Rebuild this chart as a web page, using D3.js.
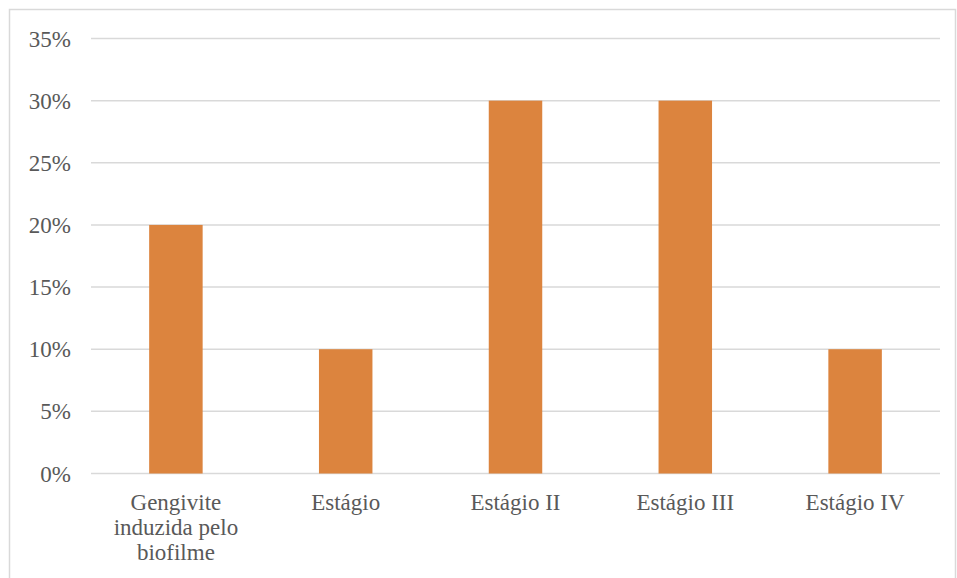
<!DOCTYPE html>
<html>
<head>
<meta charset="utf-8">
<script src="https://cdn.jsdelivr.net/npm/d3@7"></script>
<style>
  html, body { margin: 0; padding: 0; background: #fff; }
  svg { display: block; }
  text { font-family: "Liberation Serif", "Times New Roman", serif; fill: #595959; }
</style>
</head>
<body>
<svg id="chart" width="957" height="578"></svg>
<script>
// Share of cases per diagnosis category
const categories = [
  ["Gengivite", "induzida pelo", "biofilme"],
  ["Estágio"],
  ["Estágio II"],
  ["Estágio III"],
  ["Estágio IV"]
];
const values = [0.20, 0.10, 0.30, 0.30, 0.10];
const yTicks = [0, 0.05, 0.10, 0.15, 0.20, 0.25, 0.30, 0.35];

const svg = d3.select("#chart");
const W = 957, H = 578;
const plot = { left: 91, right: 940, top: 38.5, bottom: 473.5 };

svg.append("rect").attr("width", W).attr("height", H).attr("fill", "#fff");

// Outer chart frame
svg.append("rect")
  .attr("x", 9.5).attr("y", 9.5)
  .attr("width", 946).attr("height", 600)
  .attr("fill", "none").attr("stroke", "#d9d9d9").attr("stroke-width", 1.5);

const keys = categories.map((c, i) => String(i));
const pad = 0.685;
const x = d3.scaleBand().domain(keys).range([plot.left, plot.right])
  .paddingInner(pad).paddingOuter(pad / 2);
const y = d3.scaleLinear().domain([0, 0.35]).range([plot.bottom, plot.top]);

// Horizontal gridlines
svg.append("g").selectAll("line").data(yTicks).join("line")
  .attr("x1", plot.left).attr("x2", plot.right)
  .attr("y1", d => y(d)).attr("y2", d => y(d))
  .attr("stroke", "#d9d9d9").attr("stroke-width", 1.5);

// Y axis labels
const yAxis = d3.axisLeft(y).tickValues(yTicks).tickFormat(d3.format(".0%")).tickSize(0).tickPadding(0);
const gy = svg.append("g").attr("transform", "translate(71,0)").call(yAxis);
gy.select(".domain").remove();
gy.selectAll("text").attr("font-size", 23).attr("fill", "#595959")
  .attr("font-family", "Liberation Serif, serif").attr("dy", "0.33em");

// Bars
svg.append("g").selectAll("rect").data(values).join("rect")
  .attr("x", (d, i) => x(keys[i]))
  .attr("width", x.bandwidth())
  .attr("y", d => y(d))
  .attr("height", d => y(0) - y(d))
  .attr("fill", "#dc843e");

// Category labels (multi-line)
const lbl = svg.append("g").selectAll("text").data(categories).join("text")
  .attr("text-anchor", "middle")
  .attr("font-size", 23)
  .attr("x", (d, i) => x(keys[i]) + x.bandwidth() / 2)
  .attr("y", 510);
lbl.selectAll("tspan").data(d => d).join("tspan")
  .attr("x", function() { return d3.select(this.parentNode).attr("x"); })
  .attr("dy", (d, i) => i === 0 ? 0 : 25)
  .text(d => d);
</script>
</body>
</html>
